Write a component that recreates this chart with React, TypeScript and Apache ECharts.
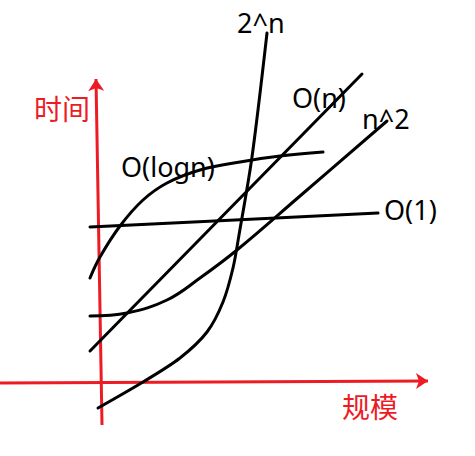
import React, { useEffect, useRef } from "react";
import * as echarts from "echarts";

// Data space: x = scale (规模), y = time (时间); origin at the red axes' crossing.
const axisX: number[][] = [[-100, 0], [328, 2]];
const axisY: number[][] = [[2, -42], [-4, 304]];

const constantPts: number[][] = [[-10, 156], [135, 163], [278, 170]];
const linearPts: number[][] = [[-10, 32], [262, 309]];
const logPts: number[][] = [
  [-10, 105], [0, 126], [20, 157], [43, 183], [67, 200], [100, 213], [140, 221], [180, 227], [223, 231],
];
const squarePts: number[][] = [
  [-10, 67], [27, 70], [67, 83], [100, 105], [137, 133], [200, 187], [287, 262],
];
const expPts: number[][] = [
  [-2, -25], [43, 1], [80, 25], [107, 51], [123, 81], [133, 115], [139, 148], [152, 226], [167, 350],
];

const curveLabels = ["2^n", "O(n)", "n^2", "O(1)", "O(logn)"];
const axisLabels = ["时间", "规模"];

const RED = "#ed1c24";
const LATIN = "'Segoe UI', 'Noto Sans', 'Open Sans', sans-serif";
const CJK = "'Noto Sans CJK SC', sans-serif";

export default function App() {
  const ref = useRef<HTMLDivElement>(null);
  useEffect(() => {
    if (!ref.current) return;
    const chart = echarts.init(ref.current, undefined, { renderer: "svg" });
    const curve = (name: string, data: number[][], smooth: number | boolean) => ({
      type: "line",
      name,
      data,
      smooth,
      showSymbol: false,
      symbol: "none",
      clip: false,
      lineStyle: { color: "#000", width: 3, cap: "round" },
      z: 3,
    });
    const latinText = (text: string, x: number, y: number) => ({
      type: "text",
      x,
      y,
      z: 10,
      style: {
        text,
        fill: "#000",
        font: `27px ${LATIN}`,
        textAlign: "left",
        textVerticalAlign: "middle",
      },
    });
    const cjkText = (text: string, x: number, y: number) => ({
      type: "text",
      x,
      y,
      z: 10,
      style: {
        text,
        fill: RED,
        font: `28px ${CJK}`,
        textAlign: "left",
        textVerticalAlign: "middle",
      },
    });
    chart.setOption({
      animation: false,
      backgroundColor: "#fff",
      grid: { left: 0, right: 0, top: 0, bottom: 0 },
      xAxis: { type: "value", min: -100, max: 375, show: false },
      yAxis: { type: "value", min: -73, max: 383, show: false },
      series: [
        {
          type: "lines",
          coordinateSystem: "cartesian2d",
          polyline: false,
          symbol: ["none", "arrow"],
          symbolSize: [10, 12],
          lineStyle: { color: RED, width: 3, opacity: 1 },
          data: [{ coords: axisX }, { coords: axisY }],
          z: 2,
        },
        curve("O(1)", constantPts, false),
        curve("O(n)", linearPts, false),
        curve("O(logn)", logPts, 0.4),
        curve("n^2", squarePts, 0.4),
        curve("2^n", expPts, 0.3),
      ],
      graphic: [
        latinText(curveLabels[0], 237, 22),
        latinText(curveLabels[1], 292, 97),
        latinText(curveLabels[2], 362, 118),
        latinText(curveLabels[3], 384, 209),
        latinText(curveLabels[4], 121, 166),
        cjkText(axisLabels[0], 34, 108),
        cjkText(axisLabels[1], 342, 406),
      ],
    });
    return () => chart.dispose();
  }, []);
  return (
    <div
      ref={ref}
      style={{ position: "absolute", left: 0, top: 0, width: 475, height: 456 }}
    />
  );
}
